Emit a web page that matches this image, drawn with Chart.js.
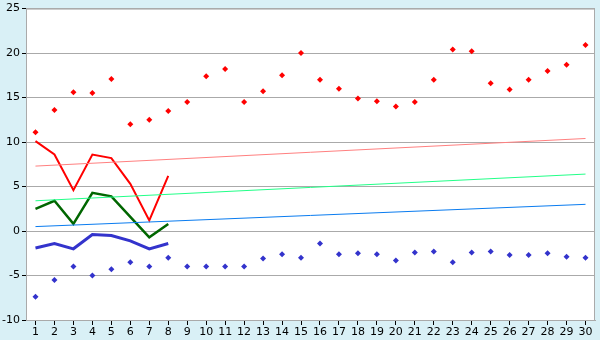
<!DOCTYPE html>
<html>
<head>
<meta charset="utf-8">
<script src="https://cdn.jsdelivr.net/npm/chart.js@4"></script>
<style>
  html, body { margin: 0; padding: 0; background: #d9f0f6; }
  #wrap { width: 600px; height: 340px; }
</style>
</head>
<body>
<div id="wrap"><canvas id="chart" width="600" height="340"></canvas></div>
<script>
// days of the month
const days = ['1','2','3','4','5','6','7','8','9','10','11','12','13','14','15','16','17','18','19','20','21','22','23','24','25','26','27','28','29','30'];

// daily maxima / minima (points)
const maxPoints = [11.1, 13.6, 15.6, 15.5, 17.1, 12.0, 12.5, 13.5, 14.5, 17.4, 18.2, 14.5, 15.7, 17.5, 20.0,
                   17.0, 16.0, 14.9, 14.6, 14.0, 14.5, 17.0, 20.4, 20.2, 16.6, 15.9, 17.0, 18.0, 18.7, 20.9];
const minPoints = [-7.4, -5.5, -4.0, -5.0, -4.3, -3.5, -4.0, -3.0, -4.0, -4.0, -4.0, -4.0, -3.1, -2.6, -3.0,
                   -1.4, -2.6, -2.5, -2.6, -3.3, -2.4, -2.3, -3.5, -2.4, -2.3, -2.7, -2.7, -2.5, -2.9, -3.0];

// measured lines, first 8 days only
const maxLine = [10.1, 8.6, 4.6, 8.6, 8.2, 5.3, 1.2, 6.2];
const avgLine = [2.5, 3.4, 0.8, 4.3, 3.9, 1.6, -0.7, 0.8];
const minLine = [-1.9, -1.4, -2.0, -0.4, -0.5, -1.1, -2.0, -1.4];

// trend lines: value on day 1 and day 30
const maxTrend = [7.3, 10.4];
const avgTrend = [3.4, 6.4];
const minTrend = [0.5, 3.0];

function ends(pair) {
  // start and end values, the rest left empty so the line spans across
  return days.map((d, i) => i === 0 ? pair[0] : (i === days.length - 1 ? pair[1] : null));
}

const frame = {
  id: 'frame',
  beforeDraw(chart) {
    const a = chart.chartArea;
    chart.ctx.save();
    chart.ctx.fillStyle = '#ffffff';
    chart.ctx.fillRect(a.left, a.top, a.right - a.left, a.bottom - a.top);
    chart.ctx.restore();
  },
  afterDraw(chart) {
    const a = chart.chartArea;
    const ctx = chart.ctx;
    ctx.save();
    ctx.strokeStyle = '#aaaaaa';
    ctx.lineWidth = 1;
    ctx.strokeRect(a.left + 0.5, a.top + 0.5, a.right - a.left - 1, a.bottom - a.top);
    ctx.restore();
  }
};

Chart.defaults.font.family = 'DejaVu Sans';
Chart.defaults.font.size = 11;
Chart.defaults.color = '#000';

new Chart(document.getElementById('chart').getContext('2d'), {
  type: 'line',
  data: {
    labels: days,
    datasets: [
      { data: ends(maxTrend), borderColor: '#ff8080', borderWidth: 1, pointRadius: 0, spanGaps: true },
      { data: ends(avgTrend), borderColor: '#22ff88', borderWidth: 1, pointRadius: 0, spanGaps: true },
      { data: ends(minTrend), borderColor: '#0a7cf0', borderWidth: 1, pointRadius: 0, spanGaps: true },
      { data: maxLine, borderColor: '#ff0000', borderWidth: 2, pointRadius: 0 },
      { data: avgLine, borderColor: '#006600', borderWidth: 2.5, pointRadius: 0 },
      { data: minLine, borderColor: '#3333cc', borderWidth: 3, pointRadius: 0 },
      { data: maxPoints, showLine: false, pointStyle: 'rectRot', pointRadius: 3,
        pointBackgroundColor: '#ff0000', pointBorderColor: '#ff0000', borderWidth: 0 },
      { data: minPoints, showLine: false, pointStyle: 'rectRot', pointRadius: 3,
        pointBackgroundColor: '#3333cc', pointBorderColor: '#3333cc', borderWidth: 0 }
    ]
  },
  options: {
    responsive: false,
    animation: false,
    tension: 0,
    layout: { padding: { top: 5, right: 5, left: 0, bottom: 0 } },
    plugins: { legend: { display: false }, tooltip: { enabled: false } },
    scales: {
      x: {
        offset: true,
        grid: { drawOnChartArea: false, drawTicks: true, tickLength: 5, tickColor: '#000', offset: false },
        border: { color: '#aaaaaa' },
        ticks: { padding: 1, maxRotation: 0, autoSkip: false },
        afterFit(s) { s.height = 20; }
      },
      y: {
        min: -10, max: 25,
        grid: { color: '#aaaaaa', tickLength: 4, tickColor: '#000' },
        border: { color: '#aaaaaa' },
        ticks: { stepSize: 5, padding: 2 },
        afterFit(s) { s.width = 26; }
      }
    }
  },
  plugins: [frame]
});
</script>
</body>
</html>
